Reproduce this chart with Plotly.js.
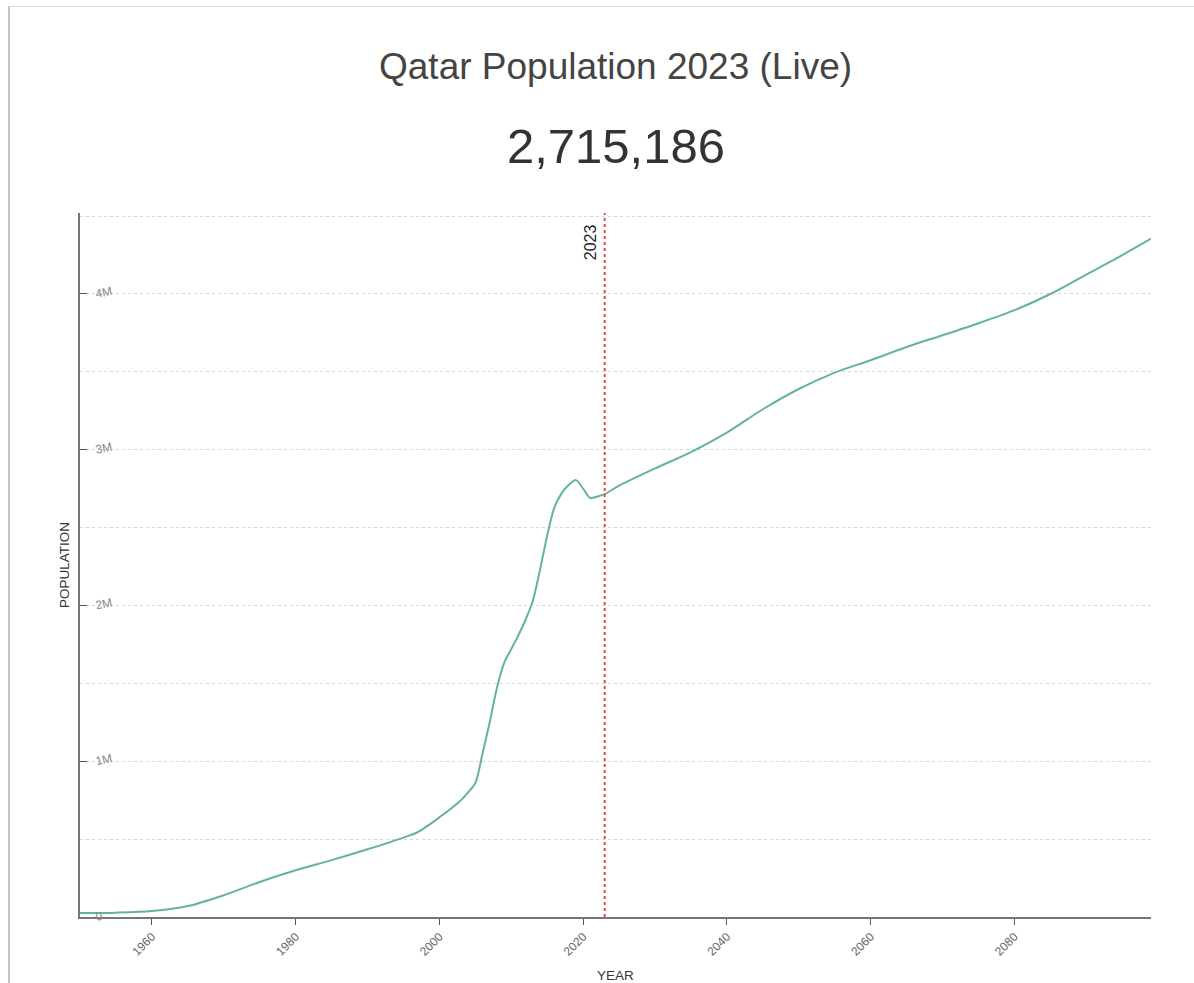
<!DOCTYPE html>
<html>
<head>
<meta charset="utf-8">
<script src="https://cdn.plot.ly/plotly-3.0.1.min.js"></script>
<style>
  html, body { margin: 0; padding: 0; background: #fff; }
  #wrap { position: relative; width: 1194px; height: 983px; overflow: hidden; }
  #frame { position: absolute; left: 8px; top: 6px; right: 0; bottom: 0;
           border-left: 2px solid #c4c4c4; border-top: 1px solid #dcdcdc; pointer-events: none; }
  #chart { position: absolute; left: 0; top: 0; width: 1194px; height: 983px; }
</style>
</head>
<body>
<div id="wrap">
  <div id="chart"></div>
  <div id="frame"></div>
</div>
<script>
// Qatar population, historical and projected
const years = [
  1950, 1955, 1960, 1965, 1970, 1975, 1980, 1985, 1990, 1995, 1997, 2000,
  2003, 2004, 2005, 2006, 2007, 2008, 2009, 2010, 2011, 2012, 2013, 2014,
  2015, 2016, 2017, 2018, 2019, 2020, 2021, 2022, 2023, 2025, 2030, 2035,
  2040, 2045, 2050, 2055, 2060, 2065, 2070, 2075, 2080, 2085, 2090, 2095, 2099
];
const population = [
  25000, 28000, 38000, 70000, 140000, 225000, 300000, 365000, 435000, 510000, 545000, 640000,
  750000, 800000, 860000, 1050000, 1250000, 1470000, 1630000, 1720000, 1810000, 1910000, 2030000, 2230000,
  2450000, 2630000, 2720000, 2775000, 2805000, 2750000, 2690000, 2700000, 2715186, 2770000, 2880000, 2985000,
  3110000, 3260000, 3390000, 3495000, 3575000, 3660000, 3735000, 3812000, 3896000, 4000000, 4125000, 4250000, 4356000
];
const currentYear = 2023;
const currentPopulation = 2715186;
const yearTicks = [1960, 1980, 2000, 2020, 2040, 2060, 2080];
const popTicks = [0, 1000000, 2000000, 3000000, 4000000];
const popTickLabels = ['0', '1M', '2M', '3M', '4M'];

const trace = {
  x: years,
  y: population,
  type: 'scatter',
  mode: 'lines',
  line: { color: '#64b496', width: 2, shape: 'spline', smoothing: 0.8 },
  hoverinfo: 'x+y'
};

const gridStyle = { showgrid: true, gridcolor: '#d6d6d6', gridwidth: 1, griddash: 'dot' };

const layout = {
  width: 1194,
  height: 983,
  margin: { l: 80, r: 43, t: 213, b: 66 },
  paper_bgcolor: 'rgba(0,0,0,0)',
  plot_bgcolor: 'rgba(0,0,0,0)',
  font: { family: 'Liberation Sans, Arial, sans-serif', color: '#666' },
  showlegend: false,
  xaxis: {
    range: [1950, 2099],
    tickvals: yearTicks,
    ticktext: yearTicks.map(String),
    tickangle: -45,
    ticks: 'outside',
    ticklen: 6,
    tickwidth: 1,
    tickcolor: '#555',
    tickfont: { size: 12, color: '#666' },
    showgrid: false,
    zeroline: false,
    showline: true,
    linecolor: '#777',
    linewidth: 2,
    title: { text: 'YEAR', font: { size: 13.5, color: '#333' }, standoff: 13 }
  },
  yaxis: Object.assign({}, gridStyle, {
    range: [0, 4520000],
    tickvals: popTicks,
    ticktext: popTickLabels,
    ticks: 'inside',
    ticklen: 7,
    tickwidth: 1,
    tickcolor: '#555',
    ticklabelposition: 'inside',
    ticklabeloverflow: 'allow',
    ticklabelstandoff: 6,
    tickangle: -12,
    tickfont: { size: 12, color: '#888' },
    zeroline: false,
    showline: true,
    linecolor: '#777',
    linewidth: 2,
    minor: { dtick: 500000, tick0: 0, showgrid: true, gridcolor: '#d6d6d6', gridwidth: 1, griddash: 'dot', ticks: '' },
    title: { text: 'POPULATION', font: { size: 13.5, color: '#333' }, standoff: 22 }
  }),
  shapes: [{
    type: 'line',
    xref: 'x', yref: 'paper',
    x0: currentYear, x1: currentYear, y0: 0, y1: 1,
    line: { color: '#e8484a', width: 2, dash: 'dot' }
  }],
  annotations: [
    {
      text: 'Qatar Population ' + currentYear + ' (Live)',
      xref: 'paper', yref: 'paper', x: 0.5, y: 1, yanchor: 'bottom', yshift: 124,
      showarrow: false,
      font: { size: 37, color: '#444' }
    },
    {
      text: currentPopulation.toLocaleString('en-US'),
      xref: 'paper', yref: 'paper', x: 0.5, y: 1, yanchor: 'bottom', yshift: 38,
      showarrow: false,
      font: { size: 49, color: '#333' }
    },
    {
      text: String(currentYear),
      xref: 'x', yref: 'paper', x: currentYear, y: 1,
      xanchor: 'right', yanchor: 'top', xshift: -4, yshift: -9,
      textangle: -90,
      showarrow: false,
      font: { size: 16, color: '#222' }
    }
  ]
};

Plotly.newPlot('chart', [trace], layout, { displayModeBar: false, staticPlot: true });
</script>
</body>
</html>
